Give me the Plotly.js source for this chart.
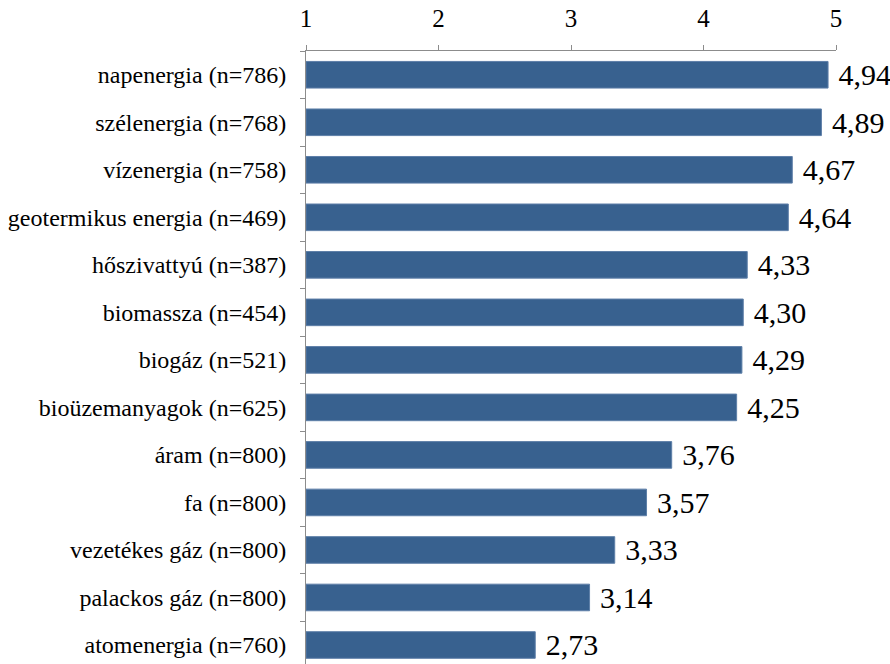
<!DOCTYPE html>
<html><head><meta charset="utf-8">
<script src="https://cdn.plot.ly/plotly-3.0.1.min.js"></script>
<style>body{margin:0;padding:0;background:#fff}</style>
</head><body>
<div id="chart" style="width:890px;height:664px"></div>
<script>
const categories = [
  "napenergia (n=786)",
  "szélenergia (n=768)",
  "vízenergia (n=758)",
  "geotermikus energia (n=469)",
  "hőszivattyú (n=387)",
  "biomassza (n=454)",
  "biogáz (n=521)",
  "bioüzemanyagok (n=625)",
  "áram (n=800)",
  "fa (n=800)",
  "vezetékes gáz (n=800)",
  "palackos gáz (n=800)",
  "atomenergia (n=760)"
];
const values = [4.94, 4.89, 4.67, 4.64, 4.33, 4.30, 4.29, 4.25, 3.76, 3.57, 3.33, 3.14, 2.73];
const labels = ["4,94","4,89","4,67","4,64","4,33","4,30","4,29","4,25","3,76","3,57","3,33","3,14","2,73"];
const tickVals = [1, 2, 3, 4, 5];

const FAM = "Liberation Serif";
Plotly.newPlot("chart", [{
  type: "bar",
  orientation: "h",
  y: categories,
  x: values.map(v => v - 1),
  base: 1,
  text: labels.map(t => "\u00a0" + t),
  textposition: "outside",
  constraintext: "none",
  cliponaxis: false,
  textfont: {family: FAM, size: 30, color: "#000"},
  marker: {color: "#38618F", line: {color: "#5E7FA8", width: 1}},
  hoverinfo: "skip"
}], {
  width: 890, height: 664,
  margin: {l: 306, r: 54, t: 51, b: 0},
  paper_bgcolor: "#fff", plot_bgcolor: "#fff",
  showlegend: false,
  bargap: 0.44,
  font: {family: FAM, size: 24, color: "#000"},
  xaxis: {
    side: "top", range: [1, 5], tickvals: tickVals, ticktext: tickVals.map(String),
    showgrid: false, zeroline: false, showline: true, linecolor: "#8c8c8c", linewidth: 1,
    ticks: "outside", ticklen: 5, tickcolor: "#8c8c8c", ticklabelstandoff: 8,
    tickfont: {family: FAM, size: 25, color: "#000"}
  },
  yaxis: {
    type: "category", range: [12.4, -0.5],
    showgrid: false, zeroline: false, showline: true, linecolor: "#8c8c8c", linewidth: 1,
    ticks: "outside", ticklen: 5, tickcolor: "#8c8c8c", tickson: "boundaries",
    ticklabelstandoff: 14,
    tickfont: {family: FAM, size: 24, color: "#000"}
  }
}, {displayModeBar: false, staticPlot: true});
</script>
</body></html>
